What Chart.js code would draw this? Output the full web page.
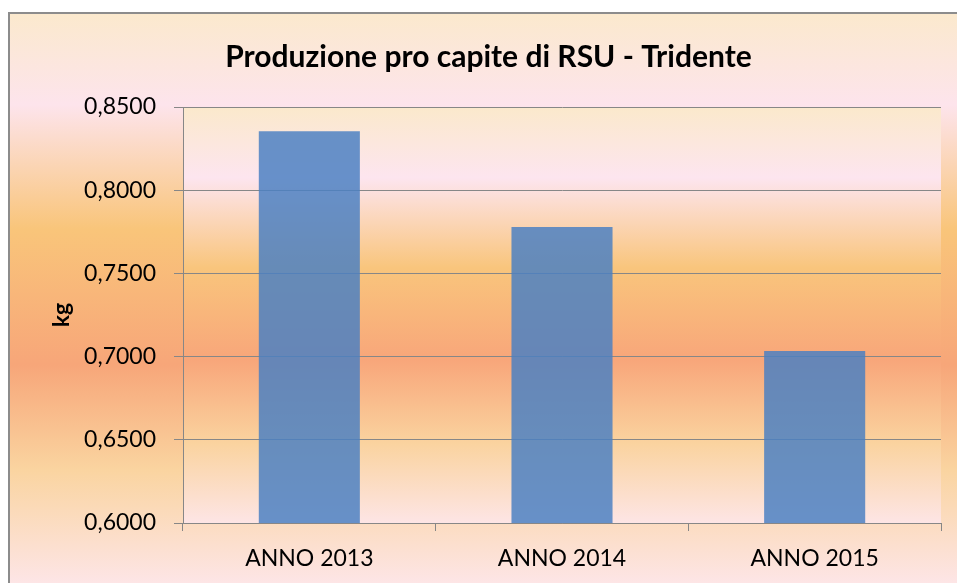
<!DOCTYPE html>
<html><head><meta charset="utf-8">
<script src="https://cdn.jsdelivr.net/npm/chart.js@4"></script>
<style>html,body{margin:0;padding:0;background:#fff;overflow:hidden}#c{display:block}</style>
</head><body>
<canvas id="c" width="957" height="583"></canvas>
<script>
const categories = ['ANNO 2013', 'ANNO 2014', 'ANNO 2015'];
const values = [0.8355, 0.7779, 0.7034];
const yMin = 0.60;
const yMax = 0.85;
const yStep = 0.05;
const chartTitle = 'Produzione pro capite di RSU - Tridente';
const yAxisTitle = 'kg';

const FONT = 'Lato, "Open Sans", sans-serif';
const GRID = '#878787';

function addStops(g, stops){ stops.forEach(s => g.addColorStop(s[0], s[1])); }

const bgPlugin = {
  id: 'bg',
  beforeDraw(chart){
    const {ctx, chartArea: a, width, height} = chart;
    ctx.save();
    ctx.fillStyle = '#fff';
    ctx.fillRect(0, 0, width, height);
    let g = ctx.createLinearGradient(0, 13, 0, height);
    addStops(g, [[0,'#fbe9cd'],[0.161,'#fde4ec'],[0.379,'#f9c57a'],[0.617,'#f7a679'],[0.801,'#fad4a0'],[1,'#fde5e6']]);
    ctx.fillStyle = g;
    ctx.fillRect(9, 13, width - 9, height - 13);
    ctx.fillStyle = '#8c8c8c';
    ctx.fillRect(8, 12, width - 8, 2);
    ctx.fillRect(8, 12, 2, height - 12);
    g = ctx.createLinearGradient(0, a.top, 0, a.bottom);
    addStops(g, [[0,'#fbe9cc'],[0.17,'#fde5ef'],[0.387,'#f9c57c'],[0.608,'#f8a67a'],[0.808,'#fad39f'],[1,'#fde5e5']]);
    ctx.fillStyle = g;
    ctx.fillRect(a.left, a.top, a.right - a.left, a.bottom - a.top);
    ctx.restore();
  }
};

new Chart(document.getElementById('c'), {
  type: 'bar',
  data: {
    labels: categories,
    datasets: [{
      data: values,
      backgroundColor: 'rgba(74,128,194,0.84)',
      borderWidth: 0,
      barPercentage: 0.4,
      categoryPercentage: 1.0
    }]
  },
  options: {
    responsive: false,
    animation: false,
    devicePixelRatio: 1,
    layout: { padding: { left: 36, right: 16, top: 0, bottom: 0 } },
    plugins: {
      legend: { display: false },
      tooltip: { enabled: false },
      title: {
        display: true,
        text: chartTitle,
        color: '#000',
        font: { family: FONT, size: 30, weight: 'bold', lineHeight: 1.2 },
        padding: { top: 39, bottom: 32 }
      }
    },
    scales: {
      x: {
        offset: true,
        grid: { offset: true, drawOnChartArea: false, drawTicks: true, tickLength: 8, color: GRID, lineWidth: 1 },
        border: { display: true, color: GRID, width: 1 },
        ticks: { color: '#000', font: { family: FONT, size: 23 }, padding: 14, maxRotation: 0 },
        afterFit(s){ s.height = 60; }
      },
      y: {
        min: yMin, max: yMax,
        grid: { color: GRID, lineWidth: 1, drawTicks: true, tickLength: 9 },
        border: { display: true, color: GRID, width: 1 },
        ticks: {
          stepSize: yStep, color: '#000', padding: 18,
          font: { family: FONT, size: 23 },
          callback: v => Number(v).toFixed(4).replace('.', ',')
        },
        title: {
          display: true, text: yAxisTitle, color: '#000',
          font: { family: FONT, size: 23, weight: 'bold', lineHeight: 1.2 },
          padding: { top: 12, bottom: 0 }
        },
        afterFit(s){ s.width = 147; }
      }
    }
  },
  plugins: [bgPlugin]
});
</script>
</body></html>
